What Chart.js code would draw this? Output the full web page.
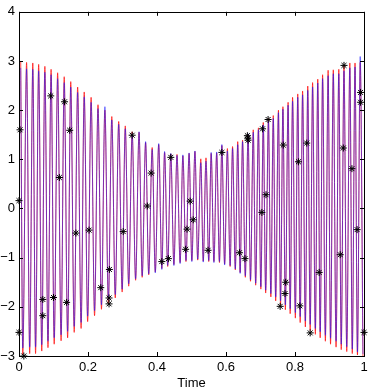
<!DOCTYPE html>
<html>
<head>
<meta charset="utf-8">
<script src="https://cdn.jsdelivr.net/npm/chart.js@4.4.0/dist/chart.umd.min.js"></script>
<style>
  html, body { margin: 0; padding: 0; background: #fff; }
  #wrap { width: 374px; height: 392px; }
</style>
</head>
<body>
<div id="wrap"><canvas id="myChart" width="374" height="392"></canvas></div>
<script>
// extrema of the oscillating signal
const peakTimes = [0.005, 0.022, 0.040, 0.057, 0.075, 0.093, 0.112, 0.131, 0.150, 0.170,
  0.189, 0.209, 0.229, 0.249, 0.269, 0.289, 0.308, 0.328, 0.348, 0.367,
  0.386, 0.405, 0.422, 0.440, 0.458, 0.475, 0.493, 0.510, 0.527, 0.542,
  0.557, 0.573, 0.588, 0.604, 0.619, 0.634, 0.648, 0.664, 0.679, 0.694,
  0.708, 0.723, 0.737, 0.752, 0.765, 0.780, 0.793, 0.808, 0.822, 0.837,
  0.851, 0.866, 0.880, 0.896, 0.911, 0.927, 0.942, 0.959, 0.974, 0.989];
const peakRed = [3.00, 2.97, 2.96, 2.93, 2.89, 2.83, 2.76, 2.68, 2.58, 2.47,
  2.37, 2.26, 2.11, 2.00, 1.87, 1.77, 1.68, 1.56, 1.55, 1.34,
  1.24, 1.30, 1.14, 1.11, 1.10, 1.07, 1.12, 1.16, 1.01, 1.03,
  1.12, 1.13, 1.28, 1.22, 1.26, 1.36, 1.39, 1.51, 1.60, 1.64,
  1.75, 1.83, 1.89, 2.00, 2.07, 2.16, 2.26, 2.33, 2.39, 2.49,
  2.56, 2.63, 2.72, 2.81, 2.82, 2.83, 2.92, 2.96, 2.96, 2.97];
const peakBlue = [2.86, 2.84, 2.83, 2.80, 2.77, 2.72, 2.64, 2.56, 2.47, 2.36,
  2.27, 2.16, 2.03, 2.07, 1.80, 1.71, 1.62, 1.52, 1.56, 1.36,
  1.20, 1.32, 1.16, 1.12, 1.08, 1.09, 1.13, 1.17, 0.93, 0.96,
  1.14, 1.15, 1.30, 1.17, 1.22, 1.30, 1.36, 1.52, 1.55, 1.60,
  1.70, 1.78, 1.83, 1.95, 2.02, 2.10, 2.18, 2.26, 2.31, 2.40,
  2.47, 2.55, 2.64, 2.70, 2.74, 2.74, 2.80, 2.86, 2.88, 3.09];

const troughTimes = [0.011, 0.031, 0.048, 0.066, 0.084, 0.102, 0.122, 0.141, 0.160, 0.180,
  0.199, 0.219, 0.239, 0.259, 0.279, 0.299, 0.318, 0.338, 0.357, 0.376,
  0.395, 0.414, 0.431, 0.449, 0.467, 0.484, 0.501, 0.518, 0.534, 0.550,
  0.565, 0.581, 0.596, 0.612, 0.627, 0.641, 0.656, 0.671, 0.686, 0.701,
  0.715, 0.730, 0.744, 0.758, 0.772, 0.786, 0.801, 0.815, 0.830, 0.844,
  0.859, 0.873, 0.888, 0.903, 0.919, 0.934, 0.950, 0.966, 0.981, 0.997];
const troughRed = [-2.98, -2.95, -2.95, -2.90, -2.83, -2.76, -2.69, -2.63, -2.52, -2.44,
  -2.30, -2.18, -2.05, -1.93, -1.82, -1.70, -1.58, -1.46, -1.40, -1.35,
  -1.29, -1.22, -1.18, -1.14, -1.10, -1.08, -1.06, -1.05, -1.07, -1.08,
  -1.08, -1.10, -1.13, -1.18, -1.25, -1.30, -1.40, -1.48, -1.56, -1.64,
  -1.72, -1.80, -1.88, -1.97, -2.06, -2.14, -2.23, -2.32, -2.41, -2.48,
  -2.56, -2.63, -2.70, -2.76, -2.82, -2.87, -2.91, -2.95, -2.98, -3.00];
const troughBlue = [-2.84, -2.82, -2.82, -2.77, -2.70, -2.63, -2.57, -2.50, -2.40, -2.32,
  -2.19, -2.08, -1.96, -1.85, -1.75, -1.64, -1.53, -1.43, -1.37, -1.33,
  -1.31, -1.24, -1.16, -1.16, -1.12, -1.06, -1.08, -1.03, -1.09, -1.06,
  -1.10, -1.08, -1.15, -1.16, -1.23, -1.32, -1.37, -1.45, -1.52, -1.59,
  -1.66, -1.73, -1.80, -1.88, -1.96, -2.04, -2.12, -2.20, -2.29, -2.36,
  -2.44, -2.51, -2.58, -2.64, -2.70, -2.76, -2.81, -2.86, -2.92, -2.96];

// noisy samples (black asterisks)
const sampleTimes = [0.000, 0.003, 0.000, 0.014, 0.092, 0.132, 0.117, 0.147, 0.165, 0.203,
  0.302, 0.069, 0.069, 0.100, 0.138, 0.237, 0.262, 0.261, 0.261, 0.328,
  0.383, 0.372, 0.440, 0.414, 0.433, 0.483, 0.487, 0.496, 0.505, 0.548,
  0.588, 0.639, 0.655, 0.662, 0.663, 0.664, 0.706, 0.722, 0.766, 0.810,
  0.834, 0.942, 0.940, 0.990, 0.990, 0.931, 0.870, 0.773, 0.771, 0.757,
  0.814, 0.844, 1.000, 0.704, 0.716, 0.965, 0.980];
const sampleValues = [0.16, 1.60, -2.52, -3.00, 2.29, 2.17, 0.63, 1.59, -0.50, -0.44,
  -0.47, -1.85, -2.18, -1.81, -1.91, -1.61, -1.24, -1.82, -1.94, 1.49,
  0.72, 0.05, 1.04, -1.08, -1.02, -0.83, -0.42, 0.15, -0.23, -0.85,
  1.14, -0.90, -1.02, 1.48, 1.43, 1.39, 1.62, 1.81, 1.29, 0.95,
  1.33, 2.91, 1.23, 2.36, 2.16, -0.94, -1.30, -1.50, -1.73, -1.99,
  -1.98, -2.53, -2.52, -0.08, 0.28, 0.81, -0.43];

const xTicks = [0, 0.2, 0.4, 0.6, 0.8, 1];
const yTicks = [-3, -2, -1, 0, 1, 2, 3, 4];

function zigzag(pt, pv, tt, tv) {
  const out = [];
  for (let i = 0; i < pt.length; i++) {
    out.push({x: pt[i], y: pv[i]});
    out.push({x: tt[i], y: tv[i]});
  }
  return out;
}

const samples = sampleTimes.map((t, i) => ({x: t, y: sampleValues[i]}));

// matlab style box with inward ticks
const boxPlugin = {
  id: 'box',
  afterDatasetsDraw(chart) {
    const {ctx, chartArea: a, scales} = chart;
    ctx.save();
    ctx.strokeStyle = '#000';
    ctx.lineWidth = 1;
    ctx.beginPath();
    xTicks.forEach(v => {
      const x = Math.round(scales.x.getPixelForValue(v)) + 0.5;
      ctx.moveTo(x, a.bottom); ctx.lineTo(x, a.bottom - 4);
      ctx.moveTo(x, a.top); ctx.lineTo(x, a.top + 4);
    });
    yTicks.forEach(v => {
      const y = Math.round(scales.y.getPixelForValue(v)) + 0.5;
      ctx.moveTo(a.left, y); ctx.lineTo(a.left + 4, y);
      ctx.moveTo(a.right, y); ctx.lineTo(a.right - 4, y);
    });
    ctx.stroke();
    ctx.strokeRect(Math.round(a.left) + 0.5, Math.round(a.top) + 0.5,
      Math.round(a.right - a.left), Math.round(a.bottom - a.top));
    ctx.restore();
  }
};

const font = {family: "'Liberation Sans', Arial, sans-serif", size: 13};

new Chart(document.getElementById('myChart'), {
  type: 'line',
  data: {
    datasets: [{
      label: 'red',
      data: zigzag(peakTimes, peakRed, troughTimes, troughRed),
      borderColor: 'rgba(255,0,0,0.9)',
      borderWidth: 0.8,
      pointRadius: 0,
      cubicInterpolationMode: 'monotone',
      order: 3
    }, {
      label: 'blue',
      data: zigzag(peakTimes, peakBlue, troughTimes, troughBlue),
      borderColor: 'rgba(20,20,255,0.7)',
      borderWidth: 0.8,
      pointRadius: 0,
      cubicInterpolationMode: 'monotone',
      order: 2
    }, {
      label: 'samples',
      data: samples,
      showLine: false,
      pointStyle: 'star',
      pointRadius: 3.5,
      borderColor: '#000',
      backgroundColor: '#000',
      pointBorderWidth: 1,
      clip: false,
      order: 1
    }]
  },
  options: {
    responsive: false,
    animation: false,
    devicePixelRatio: 1,
    layout: {padding: {top: 11, right: 10, left: 0, bottom: 0}},
    plugins: {legend: {display: false}, tooltip: {enabled: false}},
    scales: {
      x: {
        type: 'linear',
        min: 0, max: 1,
        grid: {display: false, drawTicks: false, tickLength: 0},
        border: {display: false},
        afterBuildTicks: s => { s.ticks = xTicks.map(v => ({value: v})); },
        afterFit: s => { s.height = 36; },
        ticks: {color: '#000', font: font, padding: 4, maxRotation: 0,
          callback: v => String(v)},
        title: {display: true, text: 'Time', color: '#000', font: font, padding: {top: 0, bottom: 1}}
      },
      y: {
        min: -3, max: 4,
        grid: {display: false, drawTicks: false, tickLength: 0},
        border: {display: false},
        afterBuildTicks: s => { s.ticks = yTicks.map(v => ({value: v})); },
        afterFit: s => { s.width = 19; },
        ticks: {color: '#000', font: font, padding: 4, callback: v => String(v).replace('-', '\u2212')}
      }
    }
  },
  plugins: [boxPlugin]
});
</script>
</body>
</html>
